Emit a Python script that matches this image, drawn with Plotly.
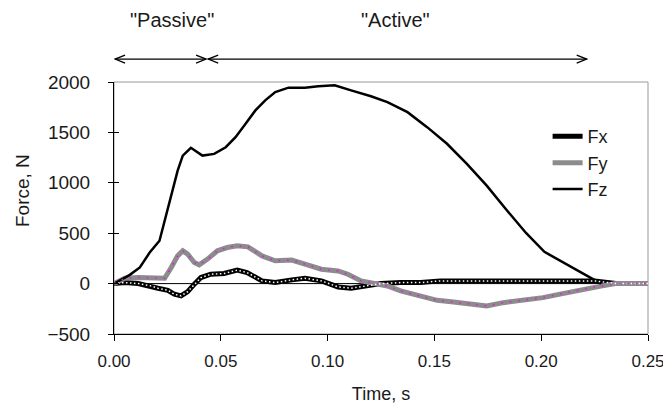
import plotly.graph_objects as go

# ground reaction force components
fx_time = [0, 0.0051, 0.0113, 0.0175, 0.0206, 0.0252, 0.0283, 0.0314, 0.0345, 0.0376, 0.0407,
           0.0453, 0.0515, 0.0577, 0.0623, 0.0693, 0.0755, 0.0832, 0.0894, 0.0971, 0.1049, 0.111,
           0.1173, 0.125, 0.1342, 0.1435, 0.1528, 0.16, 0.2, 0.225, 0.235, 0.25]
fx_force = [0, 10, 0, -23, -46, -66, -106, -122, -80, -6, 60,
            93, 100, 133, 110, 27, 10, 37, 53, 27, -33, -46,
            -23, 0, 10, 10, 27, 27, 27, 27, 0, 0]

fy_time = [0, 0.0051, 0.0113, 0.0175, 0.0237, 0.0268, 0.0298, 0.0322, 0.0345, 0.0376, 0.0399,
           0.0438, 0.0484, 0.053, 0.0577, 0.0627, 0.0693, 0.0755, 0.0832, 0.0894, 0.0971, 0.1049,
           0.1095, 0.1157, 0.1219, 0.128, 0.1342, 0.1435, 0.1513, 0.159, 0.1667, 0.1745, 0.1822,
           0.1915, 0.2008, 0.21, 0.2193, 0.2286, 0.2348, 0.25]
fy_force = [0, 53, 60, 53, 53, 159, 275, 325, 292, 209, 186,
            243, 325, 358, 375, 365, 275, 226, 233, 193, 143, 126,
            93, 27, 0, -23, -73, -122, -166, -182, -205, -222, -189,
            -166, -139, -99, -56, -23, 0, 0]

fz_time = [0, 0.0074, 0.0121, 0.0167, 0.0213, 0.0237, 0.0268, 0.0298, 0.0322, 0.036, 0.0414,
           0.0469, 0.0523, 0.0569, 0.0616, 0.0662, 0.0708, 0.0755, 0.0817, 0.0894, 0.0956, 0.1033,
           0.111, 0.1203, 0.128, 0.1374, 0.1466, 0.1559, 0.1652, 0.1745, 0.1838, 0.193, 0.2015,
           0.2131, 0.2224, 0.228]
fz_force = [0, 87, 160, 308, 425, 624, 856, 1121, 1270, 1347, 1270,
            1287, 1353, 1453, 1586, 1718, 1818, 1900, 1944, 1944, 1957, 1967,
            1917, 1858, 1801, 1701, 1552, 1387, 1188, 972, 730, 500, 315,
            176, 70, 0]

# phase brackets above the plot
phase_names = ['"Passive"', '"Active"']
phase_start = [0.0005, 0.0441]
phase_end = [0.0431, 0.2213]
phase_label_x = [0.027, 0.132]

x_ticks = [0, 0.05, 0.10, 0.15, 0.20, 0.25]
y_ticks = [-500, 0, 500, 1000, 1500, 2000]
y_range = [-500, 2000]

FONT = 'Liberation Sans, Arial, sans-serif'
TXT = '#1a1a1a'
ARROW_Y = 1.091
LABEL_Y = 1.245

fig = go.Figure()

# Fx: black chain of hollow squares
fig.add_trace(go.Scatter(x=fx_time, y=fx_force, name='Fx', mode='lines',
                         line=dict(color='black', width=5)))
fig.add_trace(go.Scatter(x=fx_time, y=fx_force, mode='lines', showlegend=False, hoverinfo='skip',
                         yaxis='y2', line=dict(color='white', width=1.5, dash='1.5px,2.5px')))
# Fy: grey band with magenta dots
fig.add_trace(go.Scatter(x=fy_time, y=fy_force, name='Fy', mode='lines',
                         line=dict(color='#8c8c8c', width=5)))
fig.add_trace(go.Scatter(x=fy_time, y=fy_force, mode='lines', showlegend=False, hoverinfo='skip',
                         yaxis='y2', line=dict(color='#ff00ff', width=1.5, dash='1.5px,7px')))
# Fz: plain black line
fig.add_trace(go.Scatter(x=fz_time, y=fz_force, name='Fz', mode='lines',
                         line=dict(color='black', width=2.5)))

shapes = [
    # grey plot-area frame (top/right stay visible)
    dict(type='rect', xref='paper', yref='paper', x0=0, x1=1, y0=0, y1=1,
         line=dict(color='#999999', width=1), layer='below'),
    # zero line
    dict(type='line', xref='paper', yref='y', x0=0, x1=1, y0=0, y1=0,
         line=dict(color='black', width=1), layer='below'),
]
annotations = []
for name, t0, t1, tx in zip(phase_names, phase_start, phase_end, phase_label_x):
    shapes.append(dict(type='line', xref='x', yref='paper', x0=t0, x1=t1, y0=ARROW_Y, y1=ARROW_Y,
                       line=dict(color='black', width=1.3)))
    shapes.append(dict(type='path', xref='x', yref='paper', xsizemode='pixel', ysizemode='pixel',
                       xanchor=t0, yanchor=ARROW_Y, path='M 10,4 L 0,0 L 10,-4',
                       line=dict(color='black', width=1.3)))
    shapes.append(dict(type='path', xref='x', yref='paper', xsizemode='pixel', ysizemode='pixel',
                       xanchor=t1, yanchor=ARROW_Y, path='M -10,4 L 0,0 L -10,-4',
                       line=dict(color='black', width=1.3)))
    annotations.append(dict(x=tx, y=LABEL_Y, xref='x', yref='paper', text=name, showarrow=False,
                            xanchor='center', yanchor='middle',
                            font=dict(family=FONT, size=20, color=TXT)))

# y-axis title placed like the original (left edge, slightly above centre)
annotations.append(dict(x=-0.171, y=0.57, xref='paper', yref='paper', text='Force, N',
                        textangle=-90, showarrow=False, xanchor='center', yanchor='middle',
                        font=dict(family=FONT, size=19, color=TXT)))

# page body adds an 8px margin, so the figure is 8px smaller than the window
fig.update_layout(
    width=663, height=402,
    margin=dict(l=106, r=23, t=74, b=76, autoexpand=False),
    paper_bgcolor='white', plot_bgcolor='white',
    font=dict(family=FONT, size=19, color=TXT),
    showlegend=True,
    legend=dict(x=0.812, y=0.857, xanchor='left', yanchor='top', bgcolor='rgba(0,0,0,0)',
                font=dict(family=FONT, size=18, color=TXT), itemwidth=30, tracegroupgap=0),
    shapes=shapes,
    annotations=annotations,
    xaxis=dict(range=[0, 0.25], tickvals=x_ticks, tickformat='.2f', showgrid=False, zeroline=False,
               showline=True, linecolor='black', linewidth=1, ticks='outside', ticklen=6,
               tickcolor='black', ticklabelstandoff=6, ticklabeloverflow='allow',
               tickfont=dict(size=17), automargin=False,
               title=dict(text='Time, s', standoff=16, font=dict(size=18))),
    yaxis=dict(range=y_range, tickvals=y_ticks, showgrid=False, zeroline=False,
               showline=True, linecolor='black', linewidth=1, ticks='outside', ticklen=5,
               tickcolor='black', ticklabelstandoff=14, automargin=False),
    # second y axis only supplies the inner half of the crossing tick marks
    yaxis2=dict(range=y_range, tickvals=y_ticks, overlaying='y', side='left', showgrid=False,
                zeroline=False, showline=False, ticks='inside', ticklen=5, tickcolor='black',
                showticklabels=False, automargin=False),
)

fig.write_html("out.html")
